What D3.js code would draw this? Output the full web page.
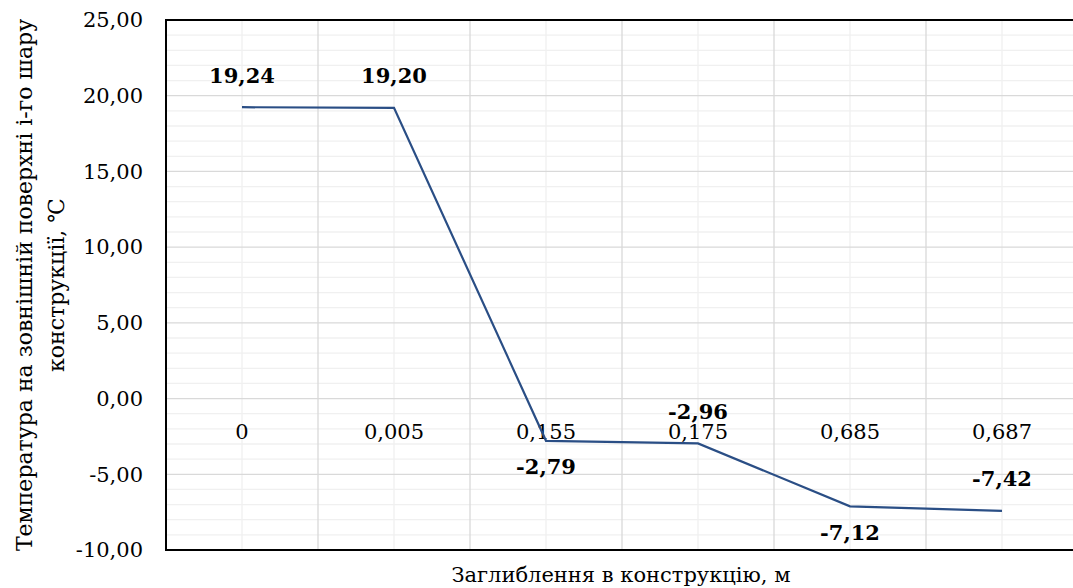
<!DOCTYPE html>
<html>
<head>
<meta charset="utf-8">
<script src="https://cdn.jsdelivr.net/npm/d3@7"></script>
<style>
  body { margin: 0; background: #fff; }
</style>
</head>
<body>
<svg id="chart" width="1073" height="588"></svg>
<script>
// chart data
var categories = ["0", "0,005", "0,155", "0,175", "0,685", "0,687"];
var temps = [19.24, 19.20, -2.79, -2.96, -7.12, -7.42];
var labelAbove = [true, true, false, true, false, true];
var yTicks = [-10, -5, 0, 5, 10, 15, 20, 25];

// plot area box (window.top is reserved, so use other names)
var plotL = 166, plotT = 20, plotR = 1078, plotB = 550;
var serif = "'DejaVu Serif', serif";

var svg = d3.select("#chart")
    .style("font-family", serif)
    .attr("font-size", 21);

var x = d3.scaleBand()
    .domain(categories)
    .range([plotL, plotR]);

var y = d3.scaleLinear()
    .domain([-10, 25])
    .range([plotB, plotT]);

function fmt(v) {
    return d3.format(".2f")(v).replace(".", ",").replace("\u2212", "-");
}

function cx(c) {
    return x(c) + x.bandwidth() / 2;
}

var grid = svg.append("g");

// minor horizontal grid
grid.selectAll("line.hmin")
    .data(d3.range(-10, 26, 1).filter(function(d) { return d % 5 != 0; }))
    .enter().append("line")
    .attr("x1", plotL).attr("x2", plotR)
    .attr("y1", function(d) { return y(d); })
    .attr("y2", function(d) { return y(d); })
    .attr("stroke", "#f0f0f0").attr("stroke-width", 1.3);

// minor vertical grid (category centers)
grid.selectAll("line.vmin")
    .data(categories)
    .enter().append("line")
    .attr("x1", cx).attr("x2", cx)
    .attr("y1", plotT).attr("y2", plotB)
    .attr("stroke", "#f0f0f0").attr("stroke-width", 1.3);

// major horizontal grid
grid.selectAll("line.hmaj")
    .data(yTicks)
    .enter().append("line")
    .attr("x1", plotL).attr("x2", plotR)
    .attr("y1", function(d) { return y(d); })
    .attr("y2", function(d) { return y(d); })
    .attr("stroke", "#d9d9d9").attr("stroke-width", 1.3);

// major vertical grid (category boundaries)
grid.selectAll("line.vmaj")
    .data(categories.slice(1))
    .enter().append("line")
    .attr("x1", function(d) { return x(d); })
    .attr("x2", function(d) { return x(d); })
    .attr("y1", plotT).attr("y2", plotB)
    .attr("stroke", "#d9d9d9").attr("stroke-width", 1.3);

// plot area border
svg.append("rect")
    .attr("x", plotL).attr("y", plotT)
    .attr("width", plotR - plotL).attr("height", plotB - plotT)
    .attr("fill", "none")
    .attr("stroke", "#000").attr("stroke-width", 2);

// y tick labels
svg.selectAll("text.ytick")
    .data(yTicks)
    .enter().append("text")
    .attr("x", 143)
    .attr("y", function(d) { return y(d); })
    .attr("dy", "0.35em")
    .attr("text-anchor", "end")
    .text(fmt);

// category labels sit just under the zero line
svg.selectAll("text.xtick")
    .data(categories)
    .enter().append("text")
    .attr("x", cx)
    .attr("y", y(0) + 33)
    .attr("dy", "0.35em")
    .attr("text-anchor", "middle")
    .text(function(d) { return d; });

// the line
var line = d3.line()
    .x(function(d, i) { return cx(categories[i]); })
    .y(function(d) { return y(d); });

svg.append("path")
    .datum(temps)
    .attr("d", line)
    .attr("fill", "none")
    .attr("stroke", "#2a4e85")
    .attr("stroke-width", 2.2);

// data labels
svg.selectAll("text.dl")
    .data(temps)
    .enter().append("text")
    .attr("font-weight", "bold")
    .attr("x", function(d, i) { return cx(categories[i]); })
    .attr("y", function(d, i) { return y(d) + (labelAbove[i] ? -32 : 26); })
    .attr("dy", "0.35em")
    .attr("text-anchor", "middle")
    .text(fmt);

// axis titles
svg.append("text")
    .attr("x", 621).attr("y", 575)
    .attr("dy", "0.35em")
    .attr("text-anchor", "middle")
    .text("Заглиблення в конструкцію, м");

var yt = svg.append("text")
    .attr("font-size", 22)
    .attr("transform", "translate(0,285) rotate(-90)")
    .attr("text-anchor", "middle");
yt.append("tspan").attr("x", 0).attr("y", 32)
    .text("Температура на зовнішній поверхні і-го шару");
yt.append("tspan").attr("x", 0).attr("y", 64)
    .text("конструкції,   ℃");
</script>
</body>
</html>
